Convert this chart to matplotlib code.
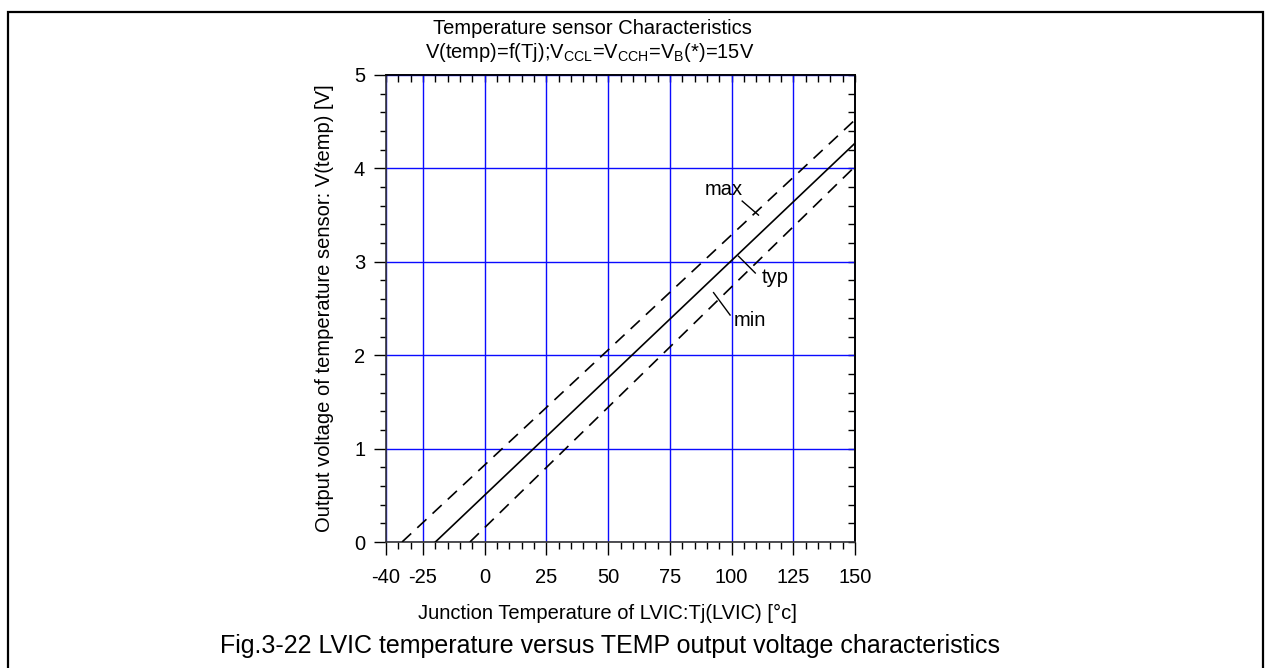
import matplotlib
matplotlib.use("Agg")
import matplotlib.pyplot as plt
from matplotlib.patches import Rectangle
from matplotlib.ticker import MultipleLocator

plt.rcParams['font.family'] = ['Liberation Sans', 'DejaVu Sans']
plt.rcParams['mathtext.fontset'] = 'custom'
plt.rcParams['mathtext.rm'] = 'Liberation Sans'
plt.rcParams['mathtext.default'] = 'regular'
plt.rcParams['axes.unicode_minus'] = False

# ---- data ----
temp_max = [-33.5, 150]
volt_max = [0.0, 4.52]
temp_typ = [-20, 150]
volt_typ = [0.0, 4.27]
temp_min = [-6, 150]
volt_min = [0.0, 4.02]

x_major = [-40, -25, 0, 25, 50, 75, 100, 125, 150]
y_major = [0, 1, 2, 3, 4, 5]

W, H = 1267, 668
fig = plt.figure(figsize=(W / 100, H / 100), dpi=100)

# outer frame
fig.patches.append(Rectangle((8 / W, -0.1), (1263 - 8) / W, (H - 12) / H + 0.1,
                             transform=fig.transFigure, fill=False,
                             edgecolor='black', linewidth=1.6))

AX_L, AX_R, AX_T, AX_B = 386, 855, 75, 542
ax = fig.add_axes([AX_L / W, 1 - AX_B / H, (AX_R - AX_L) / W, (AX_B - AX_T) / H])
ax.set_xlim(-40, 150)
ax.set_ylim(0, 5)

grid_col = '#0a0aff'
ax.set_xticks(x_major)
ax.set_yticks(y_major)
ax.xaxis.set_minor_locator(MultipleLocator(5))
ax.yaxis.set_minor_locator(MultipleLocator(0.2))
ax.grid(which='major', color=grid_col, linewidth=1.0, zorder=0)
ax.set_axisbelow(True)

FS = 14.5
ax.tick_params(axis='x', which='major', direction='out', length=9.5, width=1.0,
               labelsize=FS, pad=9.5, top=False)
ax.tick_params(axis='x', which='minor', direction='out', length=5, width=1.0, top=False)
ax.tick_params(axis='y', which='major', direction='out', length=9, width=1.0,
               labelsize=FS, pad=6, right=False)
ax.tick_params(axis='y', which='minor', direction='out', length=4.5, width=1.0, right=False)

# inward ticks on top and right
top = ax.secondary_xaxis('top')
top.xaxis.set_major_locator(MultipleLocator(5))
top.tick_params(direction='in', length=5, width=1.0, labeltop=False)
right = ax.secondary_yaxis('right')
right.yaxis.set_major_locator(MultipleLocator(0.2))
right.tick_params(direction='in', length=5, width=1.0, labelright=False)
for s in list(ax.spines.values()) + [top.spines['top'], right.spines['right']]:
    s.set_linewidth(1.2)
    s.set_color('black')
ax.spines['left'].set_color('#333333')
ax.spines['bottom'].set_color('#333333')

# curves
ax.plot(temp_max, volt_max, color='black', lw=1.2, linestyle=(0, (7.5, 5)), zorder=3)
ax.plot(temp_typ, volt_typ, color='black', lw=1.2, zorder=3)
ax.plot(temp_min, volt_min, color='black', lw=1.2, linestyle=(0, (7.5, 5)), zorder=3)

# annotations with leader lines
ax.plot([104.3, 110.9], [3.65, 3.50], color='black', lw=1.0, zorder=3)
ax.text(96.8, 3.77, 'max', ha='center', va='center', fontsize=FS)
ax.plot([102.8, 109.6], [3.06, 2.88], color='black', lw=1.0, zorder=3)
ax.text(117.7, 2.835, 'typ', ha='center', va='center', fontsize=FS)
ax.plot([92.7, 99.4], [2.67, 2.43], color='black', lw=1.0, zorder=3)
ax.text(107.5, 2.37, 'min', ha='center', va='center', fontsize=FS)

ax.set_xlabel('Junction Temperature of LVIC:Tj(LVIC) [°c]', fontsize=FS)
ax.xaxis.label.set_va('baseline')
ax.xaxis.set_label_coords((607 - AX_L) / (AX_R - AX_L), (AX_B - 619) / (AX_B - AX_T))
ax.set_ylabel('Output voltage of temperature sensor: V(temp) [V]', fontsize=FS)
ax.yaxis.label.set_va('center')
ax.yaxis.set_label_coords((325 - AX_L) / (AX_R - AX_L), 0.5)

fig.text(592 / W, 1 - 33.5 / H, 'Temperature sensor Characteristics',
         ha='center', va='baseline', fontsize=FS)
fig.text(590 / W, 1 - 57.5 / H,
         r'V(temp)=f(Tj);V$_{CCL}$=V$_{CCH}$=V$_{B}$(*)=15V',
         ha='center', va='baseline', fontsize=FS)
fig.text(610 / W, 1 - 653 / H,
         'Fig.3-22 LVIC temperature versus TEMP output voltage characteristics',
         ha='center', va='baseline', fontsize=18)

fig.savefig('out.png', dpi=100)
